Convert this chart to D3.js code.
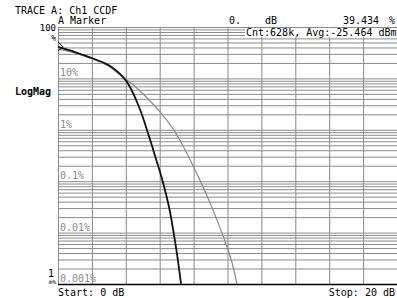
<!DOCTYPE html>
<html>
<head>
<meta charset="utf-8">
<script src="https://cdn.jsdelivr.net/npm/d3@7"></script>
<style>
  body { margin: 0; background: #fff; }
  svg { display: block; }
  text { font-family: 'DejaVu Sans Mono', monospace; font-size: 10px; fill: #000; }
  .grid line { stroke: #8a8a8a; stroke-width: 1; }
  .grid path { display: none; }
  .glabel { fill: #8a8a8a; }
</style>
</head>
<body>
<div id="chart"></div>
<script>
document.addEventListener('DOMContentLoaded', init, false);

var width = 397;
var height = 298;

var plot = { left: 58, right: 397, top: 27, bottom: 284 };

// measured CCDF (dB above average, percent)
var measDb  = [0, 1.0, 2.0, 3.07, 3.66, 4.07, 4.37, 4.66, 4.96, 5.25, 5.55, 5.78, 6.02, 6.31, 6.61, 6.90, 7.08, 7.26];
var measPct = [41.0, 32.6, 24.9, 17.4, 12.2, 8.51, 5.69, 3.47, 1.94, 0.991, 0.484, 0.270, 0.151, 0.0675, 0.0252, 0.00687, 0.0028, 0.001];

// gaussian reference trace
var refDb  = [0, 1.0, 2.0, 3.07, 3.66, 4.07, 4.84, 5.43, 6.02, 6.79, 7.38, 7.97, 8.56, 8.97, 9.38, 9.97, 10.32, 10.56];
var refPct = [37.5, 31.2, 23.9, 16.7, 11.6, 9.31, 5.69, 3.63, 2.22, 1.04, 0.484, 0.198, 0.0771, 0.0377, 0.0176, 0.00525, 0.00224, 0.001];

var xTicks = [0, 2, 4, 6, 8, 10, 12, 14, 16, 18, 20];
var decadeLabels = [
  { v: 10, t: '10%' },
  { v: 1, t: '1%' },
  { v: 0.1, t: '0.1%' },
  { v: 0.01, t: '0.01%' },
  { v: 0.001, t: '0.001%' }
];

function init() {

  var svg = d3.select('#chart')
    .append('svg')
      .attr('width', width)
      .attr('height', height);

  var x = d3.scaleLinear()
    .domain([0, 20])
    .range([plot.left, plot.right]);

  var y = d3.scaleLog()
    .domain([0.001, 100])
    .range([plot.bottom, plot.top]);

  drawGrid(svg, x, y);
  drawTraces(svg, x, y);
  drawText(svg);
}

function drawGrid(svg, x, y) {

  svg.append('g')
    .attr('class', 'grid')
    .attr('transform', 'translate(' + plot.left + ',0)')
    .call(d3.axisLeft(y)
      .tickValues(y.ticks())
      .tickSize(-(plot.right - plot.left))
      .tickFormat(''));

  svg.append('g')
    .attr('class', 'grid')
    .attr('transform', 'translate(0,' + plot.bottom + ')')
    .call(d3.axisBottom(x)
      .tickValues(xTicks)
      .tickSize(-(plot.bottom - plot.top))
      .tickFormat(''));

  svg.selectAll('.glabel')
    .data(decadeLabels)
    .enter()
    .append('text')
      .attr('class', 'glabel')
      .attr('x', plot.left + 2)
      .attr('y', function (d) { return y(d.v) - 2; })
      .text(function (d) { return d.t; });

  // bottom edge is drawn solid
  svg.append('line')
    .attr('x1', plot.left)
    .attr('x2', plot.right)
    .attr('y1', plot.bottom + 0.5)
    .attr('y2', plot.bottom + 0.5)
    .attr('stroke', '#000')
    .attr('stroke-width', 1.5);
}

function drawTraces(svg, x, y) {

  var line = d3.line()
    .x(function (d) { return x(d[0]); })
    .y(function (d) { return y(d[1]); })
    .curve(d3.curveMonotoneX);

  var ref = d3.zip(refDb, refPct);
  var meas = d3.zip(measDb, measPct);

  svg.append('path')
    .attr('fill', 'none')
    .attr('stroke', '#8c8c8c')
    .attr('stroke-width', 1.2)
    .attr('d', line(ref));

  svg.append('path')
    .attr('fill', 'none')
    .attr('stroke', '#111')
    .attr('stroke-width', 1.8)
    .attr('d', line(meas));

  // marker at start of the measured trace
  var mx = x(measDb[0]);
  var my = y(measPct[0]);
  svg.append('path')
    .attr('fill', 'none')
    .attr('stroke', '#111')
    .attr('stroke-width', 1)
    .attr('d', 'M' + mx + ',' + (my - 5) + 'L' + (mx + 5) + ',' + my + 'L' + mx + ',' + (my + 4));
}

function drawText(svg) {

  function txt(px, py, s, anchor, size) {
    var t = svg.append('text')
      .attr('x', px)
      .attr('y', py)
      .attr('text-anchor', anchor || 'start')
      .text(s);
    if (size) t.style('font-size', size + 'px');
    return t;
  }

  txt(15, 14, 'TRACE A: Ch1 CCDF');
  txt(58, 24, 'A Marker');
  txt(229, 24, '0.');
  txt(265, 24, 'dB');
  txt(379, 24, '39.434', 'end');
  txt(389, 24, '%');

  svg.append('rect')
    .attr('x', 245)
    .attr('y', 28)
    .attr('width', 152)
    .attr('height', 9)
    .attr('fill', '#fff');
  txt(246, 36, 'Cnt:628k, Avg:-25.464 dBm');

  txt(56, 31, '100', 'end', 9);
  txt(56, 41, '%', 'end', 8);
  txt(15, 95, 'LogMag').style('font-weight', 'bold');
  txt(54, 277, '1', 'end');
  txt(56, 284, 'm%', 'end', 6);

  txt(58, 296, 'Start: 0 dB');
  txt(395, 296, 'Stop: 20 dB', 'end');
}
</script>
</body>
</html>
